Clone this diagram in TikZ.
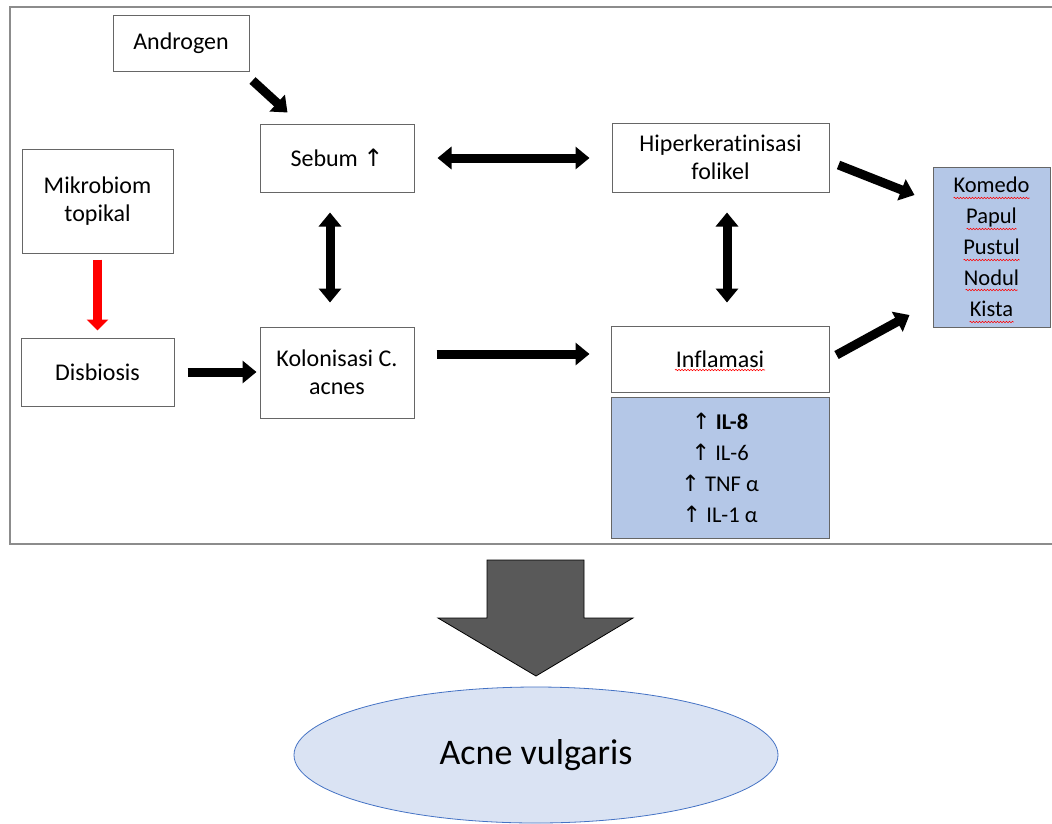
\documentclass[tikz,border=0pt]{standalone}
\usepackage{fontspec}
\setmainfont[Ligatures=NoCommon]{Carlito}
\newfontfamily\dejavu{DejaVu Sans}
\usetikzlibrary{arrows.meta,decorations.pathmorphing,shapes.geometric}
\definecolor{boxblue}{HTML}{B4C7E7}
\definecolor{ellfill}{HTML}{DAE3F3}
\definecolor{ellline}{HTML}{4472C4}
\definecolor{bigarrow}{HTML}{595959}
\newcommand{\upar}{{\dejavu\char"2191}}
\begin{document}
\begin{tikzpicture}[x=1pt,y=-1pt,
 box/.style={draw=black!60, line width=1pt, fill=white, inner sep=0pt, align=center, font=\fontsize{24}{28}\selectfont},
 bluebox/.style={box, fill=boxblue, font=\fontsize{22.5}{31}\selectfont},
 fat/.style={line width=9pt, -{Triangle[length=14pt,width=22pt]}},
 fatboth/.style={line width=9pt, {Triangle[length=14pt,width=22pt]}-{Triangle[length=14pt,width=22pt]}},
 squig/.style={red, line width=0.6pt, decorate, decoration={snake, amplitude=0.7pt, segment length=3pt}},
]
\useasboundingbox (0,0) rectangle (1052,823);
\draw[black!45, line width=1.5pt] (10,7) rectangle (1070,544);

\node[box, minimum width=136pt, minimum height=56pt] (andro) at (181,43) {Androgen};
\node[box, minimum width=154pt, minimum height=68pt] (sebum) at (337,158) {Sebum \upar};
\node[box, minimum width=151pt, minimum height=104pt] (mikro) at (97.5,201) {Mikrobiom\\topikal};
\node[box, minimum width=153pt, minimum height=68pt] (disb) at (97.5,372) {Disbiosis};
\node[box, minimum width=154pt, minimum height=91pt] (kolon) at (337,372.5) {Kolonisasi C.\\acnes};
\node[box, minimum width=217pt, minimum height=69pt] (hiper) at (720.5,157.5) {Hiperkeratinisasi\\folikel};
\node[box, minimum width=218pt, minimum height=66pt] (infl) at (720,359) {Inflamasi};
\node[bluebox, minimum width=218pt, minimum height=141pt] (il) at (720,467.5) {\upar{} \textbf{IL-8}\\\upar{} IL-6\\\upar{} TNF α\\\upar{} IL-1 α};
\node[bluebox, minimum width=117pt, minimum height=160pt] (komedo) at (991.5,247) {Komedo\\Papul\\Pustul\\Nodul\\Kista};

% spell-check squiggles
\draw[squig] ([shift={(-38,-49)}]komedo.center) -- ++(76,0);
\draw[squig] ([shift={(-25,-18)}]komedo.center) -- ++(50,0);
\draw[squig] ([shift={(-28,13)}]komedo.center) -- ++(56,0);
\draw[squig] ([shift={(-26,43)}]komedo.center) -- ++(52,0);
\draw[squig] ([shift={(-22,75)}]komedo.center) -- ++(44,0);
\draw[squig] ([shift={(-45,11)}]infl.center) -- ++(90,0);

% connectors
\draw[fat] ([shift={(3,9)}]andro.south east) -- ([shift={(28,-11)}]sebum.north west);
\draw[fatboth, shorten <=23pt, shorten >=22pt] (sebum.east) -- (hiper.west |- sebum.east);
\draw[fatboth] ([shift={(-7,20)}]sebum.south) -- ([shift={(-7,-24)}]kolon.north);
\draw[line width=9pt, red, -{Triangle[length=11pt,width=21pt]}] ([shift={(0,6)}]mikro.south) -- ([shift={(0,-7)}]disb.north);
\draw[fat] ([shift={(13,0)}]disb.east) -- ([shift={(-3,0)}]kolon.west |- disb.east);
\draw[fat] ([shift={(22,-18.5)}]kolon.east) -- ([shift={(-21,-5)}]infl.west);
\draw[fatboth] ([shift={(6.5,20)}]hiper.south) -- ([shift={(7,-23)}]infl.north);
\draw[fat] ([shift={(9,7.5)}]hiper.east) -- ([shift={(-18,-52)}]komedo.west);
\draw[fat] ([shift={(7,-4)}]infl.east) -- ([shift={(-23,68)}]komedo.west);

% big arrow
\draw[fill=bigarrow, draw=black, line width=0.8pt] (487,560) -- (584,560) -- (584,618) -- (633,618) -- (536,676) -- (438,618) -- (487,618) -- cycle;

\node[ellipse, draw=ellline, line width=0.8pt, fill=ellfill, minimum width=484pt, minimum height=136pt, font=\fontsize{36}{40}\selectfont] (acne) at (536,755) {Acne vulgaris};
\end{tikzpicture}
\end{document}
